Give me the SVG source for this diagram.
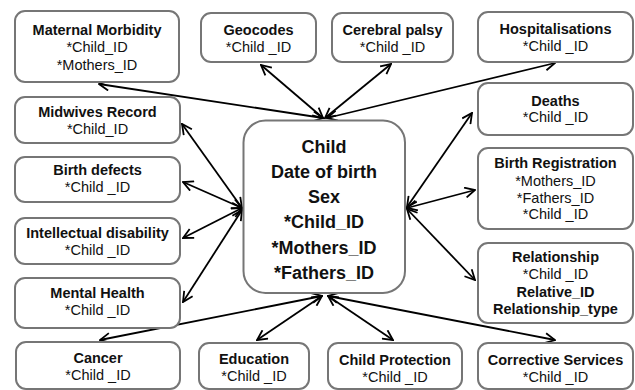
<svg xmlns="http://www.w3.org/2000/svg" width="635" height="390" viewBox="0 0 635 390">
<defs>
<style>
.box{fill:#fff;stroke:#767676;stroke-width:2}
.t{font-family:"Liberation Sans",Arial,sans-serif;font-size:14.5px;fill:#111;text-anchor:middle}
.b{font-weight:bold}
.c{font-family:"Liberation Sans",Arial,sans-serif;font-size:18px;font-weight:bold;fill:#111;text-anchor:middle}
.ln{stroke:#000;stroke-width:1.8;fill:none;marker-start:url(#ah);marker-end:url(#ah)}
</style>
<marker id="ah" viewBox="0 0 12 12" refX="11" refY="6" markerWidth="12" markerHeight="12" markerUnits="userSpaceOnUse" orient="auto-start-reverse">
<path d="M1,1 L11,6 L1,11" fill="none" stroke="#000" stroke-width="1.8"/>
</marker>
</defs>
<rect width="635" height="390" fill="#fff"/>
<g id="connectors">
<line class="ln" x1="323" y1="118" x2="99" y2="84"/>
<line class="ln" x1="323" y1="118" x2="261" y2="65"/>
<line class="ln" x1="325" y1="118" x2="391" y2="64"/>
<line class="ln" x1="327" y1="118" x2="555" y2="63"/>
<line class="ln" x1="242" y1="208" x2="182" y2="124"/>
<line class="ln" x1="242" y1="208" x2="183" y2="182"/>
<line class="ln" x1="242" y1="208" x2="183" y2="238"/>
<line class="ln" x1="242" y1="210" x2="183" y2="302"/>
<line class="ln" x1="407" y1="207" x2="472" y2="113"/>
<line class="ln" x1="407" y1="208" x2="475" y2="190"/>
<line class="ln" x1="407" y1="209" x2="475" y2="280"/>
<line class="ln" x1="322" y1="296" x2="100" y2="340"/>
<line class="ln" x1="322" y1="296" x2="257" y2="340"/>
<line class="ln" x1="328" y1="296" x2="393" y2="340"/>
<line class="ln" x1="328" y1="296" x2="555" y2="340"/>
</g>
<g id="child">
<rect class="box" x="243.5" y="120.5" width="161.5" height="172.5" rx="22"/>
<text class="c" x="324" y="153">Child</text>
<text class="c" x="324" y="178">Date of birth</text>
<text class="c" x="324" y="203">Sex</text>
<text class="c" x="324" y="228">*Child_ID</text>
<text class="c" x="324" y="254">*Mothers_ID</text>
<text class="c" x="324" y="279">*Fathers_ID</text>
</g>
<g id="maternal-morbidity">
<rect class="box" x="15" y="11" width="164" height="71" rx="10"/>
<text class="t b" x="97" y="35">Maternal Morbidity</text>
<text class="t" x="97" y="52">*Child_ID</text>
<text class="t" x="97" y="70">*Mothers_ID</text>
</g>
<g id="geocodes">
<rect class="box" x="201" y="13" width="115" height="49" rx="10"/>
<text class="t b" x="258.5" y="35">Geocodes</text>
<text class="t" x="258.5" y="52">*Child _ID</text>
</g>
<g id="cerebral-palsy">
<rect class="box" x="332" y="13" width="121" height="49" rx="10"/>
<text class="t b" x="392.5" y="35">Cerebral palsy</text>
<text class="t" x="392.5" y="52">*Child _ID</text>
</g>
<g id="hospitalisations">
<rect class="box" x="478" y="12" width="155" height="50" rx="10"/>
<text class="t b" x="555.5" y="34">Hospitalisations</text>
<text class="t" x="555.5" y="51">*Child _ID</text>
</g>
<g id="deaths">
<rect class="box" x="478" y="83" width="155" height="52" rx="10"/>
<text class="t b" x="555.5" y="106">Deaths</text>
<text class="t" x="555.5" y="122">*Child _ID</text>
</g>
<g id="birth-registration">
<rect class="box" x="478" y="148" width="155" height="81" rx="10"/>
<text class="t b" x="555.5" y="168">Birth Registration</text>
<text class="t" x="555.5" y="186">*Mothers_ID</text>
<text class="t" x="555.5" y="203">*Fathers_ID</text>
<text class="t" x="555.5" y="219">*Child _ID</text>
</g>
<g id="relationship">
<rect class="box" x="478" y="243" width="155" height="80" rx="10"/>
<text class="t b" x="555.5" y="262">Relationship</text>
<text class="t" x="555.5" y="279">*Child _ID</text>
<text class="t b" x="555.5" y="297">Relative_ID</text>
<text class="t b" x="555.5" y="314">Relationship_type</text>
</g>
<g id="corrective-services">
<rect class="box" x="478" y="343" width="155" height="46" rx="10"/>
<text class="t b" x="555.5" y="365">Corrective Services</text>
<text class="t" x="555.5" y="382">*Child _ID</text>
</g>
<g id="child-protection">
<rect class="box" x="328" y="343" width="134" height="46" rx="10"/>
<text class="t b" x="395" y="365">Child Protection</text>
<text class="t" x="395" y="382">*Child _ID</text>
</g>
<g id="education">
<rect class="box" x="199" y="343" width="110" height="46" rx="10"/>
<text class="t b" x="254" y="364">Education</text>
<text class="t" x="254" y="381">*Child _ID</text>
</g>
<g id="cancer">
<rect class="box" x="16" y="342" width="164" height="47" rx="10"/>
<text class="t b" x="98" y="363">Cancer</text>
<text class="t" x="98" y="380">*Child _ID</text>
</g>
<g id="mental-health">
<rect class="box" x="15" y="278" width="165" height="50" rx="10"/>
<text class="t b" x="97.5" y="298">Mental Health</text>
<text class="t" x="97.5" y="315">*Child _ID</text>
</g>
<g id="intellectual-disability">
<rect class="box" x="15" y="218" width="165" height="46" rx="10"/>
<text class="t b" x="97.5" y="238">Intellectual disability</text>
<text class="t" x="97.5" y="255">*Child _ID</text>
</g>
<g id="birth-defects">
<rect class="box" x="15" y="157" width="165" height="45" rx="10"/>
<text class="t b" x="97.5" y="175">Birth defects</text>
<text class="t" x="97.5" y="192">*Child _ID</text>
</g>
<g id="midwives-record">
<rect class="box" x="15" y="97" width="165" height="46" rx="10"/>
<text class="t b" x="97.5" y="117">Midwives Record</text>
<text class="t" x="97.5" y="134">*Child_ID</text>
</g>
</svg>
